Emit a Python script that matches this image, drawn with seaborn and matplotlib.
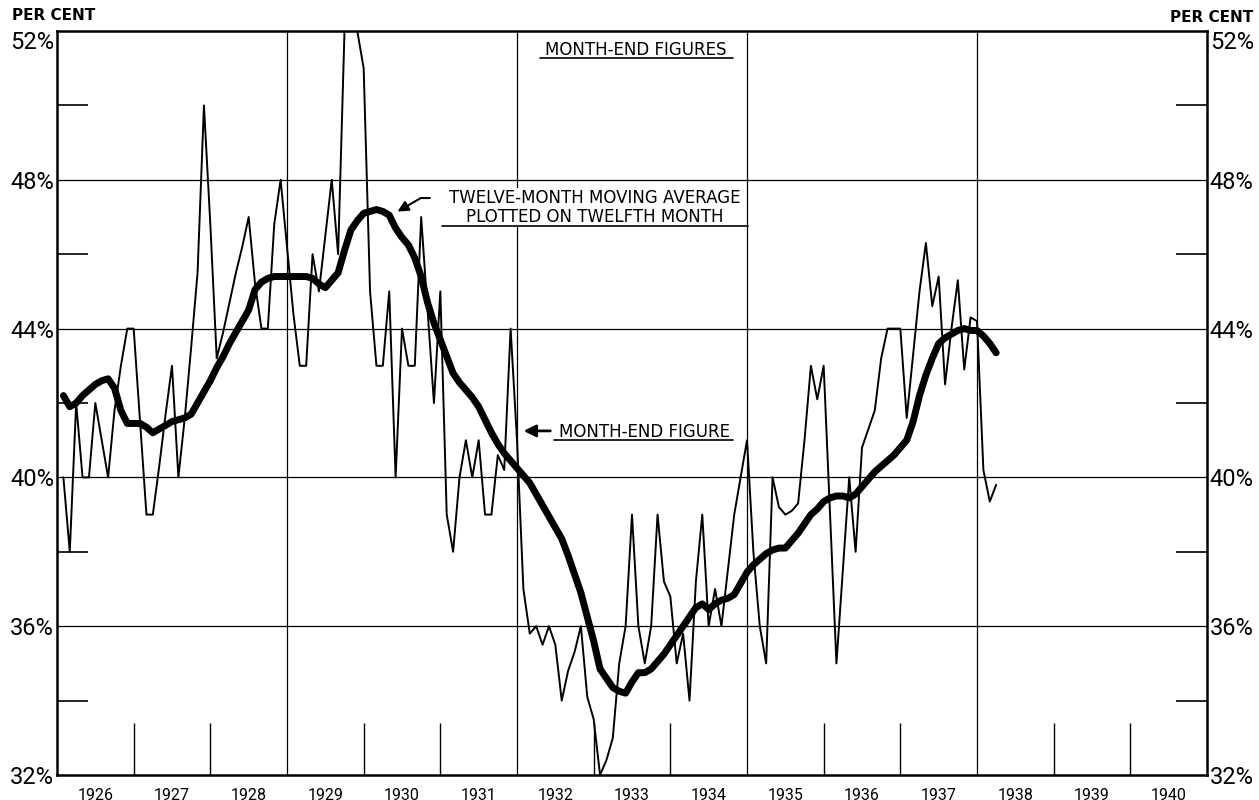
import numpy as np
import pandas as pd
import seaborn as sns
import matplotlib.pyplot as plt

# Configuration
CONFIG = {
    'out': 'out.png',
    'size': (12.59, 8.0),
    'dpi': 100,
    'font': ['Roboto', 'DejaVu Sans'],
    'note_font': ['DejaVu Sans'],
}

# Month-end figures, Jan 1926 .. Mar 1938 (per cent)
month_end = [
    40, 38, 42, 40, 40, 42, 41, 40, 41.8, 43, 44, 44,                  # 1926
    41.5, 39, 39, 40.3, 41.7, 43, 40, 41.6, 43.5, 45.5, 50, 46.8,      # 1927
    43.2, 43.9, 44.7, 45.5, 46.2, 47, 45.2, 44, 44, 46.8, 48, 46.2,    # 1928
    44.4, 43, 43, 46, 45, 46.5, 48, 46, 52, 52, 52, 51,                # 1929
    45, 43, 43, 45, 40, 44, 43, 43, 47, 44.5, 42, 45,                  # 1930
    39, 38, 40, 41, 40, 41, 39, 39, 40.6, 40.2, 44, 41,                # 1931
    37, 35.8, 36, 35.5, 36, 35.5, 34, 34.8, 35.3, 36, 34.1, 33.5,      # 1932
    32, 32.4, 33, 35, 36, 39, 36, 35, 36, 39, 37.2, 36.8,              # 1933
    35, 35.8, 34, 37.2, 39, 36, 37, 36, 37.5, 39, 40, 41,              # 1934
    38, 36, 35, 40, 39.2, 39, 39.1, 39.3, 41, 43, 42.1, 43,            # 1935
    39, 35, 37.5, 40, 38, 40.8, 41.3, 41.8, 43.2, 44, 44, 44,          # 1936
    41.6, 43.3, 45, 46.3, 44.6, 45.4, 42.5, 44, 45.3, 42.9, 44.3, 44.2,  # 1937
    40.2, 39.35, 39.8,                                                 # 1938
]

# Twelve-month moving average, plotted on twelfth month
moving_avg = [
    42.2, 41.9, 42.0, 42.2, 42.35, 42.5, 42.6, 42.65, 42.4, 41.8, 41.45, 41.45,
    41.45, 41.35, 41.2, 41.3, 41.4, 41.5, 41.55, 41.6, 41.7, 42.0, 42.3, 42.6,
    42.95, 43.25, 43.6, 43.9, 44.2, 44.5, 45.05, 45.25, 45.35, 45.4, 45.4, 45.4,
    45.4, 45.4, 45.4, 45.35, 45.2, 45.1, 45.3, 45.5, 46.1, 46.65, 46.9, 47.1,
    47.15, 47.2, 47.15, 47.05, 46.7, 46.45, 46.25, 45.9, 45.4, 44.7, 44.15, 43.7,
    43.25, 42.8, 42.55, 42.35, 42.15, 41.9, 41.55, 41.2, 40.9, 40.65, 40.45, 40.25,
    40.05, 39.85, 39.55, 39.25, 38.95, 38.65, 38.35, 37.9, 37.4, 36.9, 36.25, 35.6,
    34.85, 34.6, 34.35, 34.25, 34.2, 34.5, 34.75, 34.75, 34.85, 35.05, 35.25, 35.5,
    35.75, 36.0, 36.25, 36.5, 36.6, 36.45, 36.6, 36.7, 36.75, 36.85, 37.15, 37.45,
    37.65, 37.8, 37.95, 38.05, 38.1, 38.1, 38.3, 38.5, 38.75, 39.0, 39.15, 39.35,
    39.45, 39.5, 39.5, 39.45, 39.55, 39.75, 39.95, 40.15, 40.3, 40.45, 40.6, 40.8,
    41.0, 41.5, 42.2, 42.75, 43.2, 43.6, 43.75, 43.85, 43.95, 44.0, 43.95, 43.95,
    43.8, 43.6, 43.35,
]

years = list(range(1926, 1941))
grid_years = [1929, 1932, 1935, 1938]
pct_major = [32, 36, 40, 44, 48, 52]
pct_minor = [34, 38, 42, 46, 50]


def main():
    # 1. Build the frame (month-end dates as decimal years)
    months = pd.period_range('1926-01', periods=len(month_end), freq='M')
    df = pd.DataFrame({
        'year': months.year + months.month / 12.0,
        'month_end': month_end,
        'moving_avg': moving_avg,
    })

    sns.set_theme(style='white')
    plt.rcParams['font.family'] = CONFIG['font']

    fig = plt.figure(figsize=CONFIG['size'], dpi=CONFIG['dpi'])
    ax = fig.add_axes([57 / 1259, 25 / 800, 1150 / 1259, 744 / 800])

    # 2. Lines
    sns.lineplot(data=df, x='year', y='month_end', color='black', lw=1.4, ax=ax)
    sns.lineplot(data=df, x='year', y='moving_avg', color='black', lw=5,
                 solid_capstyle='round', ax=ax)

    ax.set_xlim(1926, 1941)
    ax.set_ylim(32, 52)
    ax.set_xlabel('')
    ax.set_ylabel('')

    # 3. Grid, ticks, frame
    for y in pct_major[1:-1]:
        ax.axhline(y, color='black', lw=0.9, zorder=1)
    for x in grid_years:
        ax.axvline(x, color='black', lw=0.9, zorder=1)
    for s in ax.spines.values():
        s.set_color('black')
        s.set_linewidth(1.8)

    ax.set_xticks([y for y in years[1:] if y not in grid_years])
    ax.set_xticks([y + 0.5 for y in years], minor=True)
    ax.set_xticklabels([])
    ax.set_xticklabels([str(y) for y in years], minor=True)
    ax.tick_params(axis='x', which='major', direction='in', length=37.5, width=1,
                   color='black', bottom=True)
    ax.tick_params(axis='x', which='minor', length=0, pad=9, labelsize=11.5,
                   labelcolor='black')

    ax.set_yticks(pct_major)
    ax.set_yticklabels([f'{p}%' for p in pct_major])
    ax.set_yticks(pct_minor, minor=True)
    ax.tick_params(axis='y', which='major', length=0, pad=2, labelsize=17,
                   labelcolor='black', left=True, right=True,
                   labelleft=True, labelright=True)
    ax.tick_params(axis='y', which='minor', direction='in', length=22, width=1.2,
                   color='black', left=True, right=True)
    for t in ax.yaxis.get_major_ticks():
        if t.get_loc() == 52:
            t.label1.set_verticalalignment('top')
            t.label2.set_verticalalignment('top')

    # 4. Annotations
    note = dict(ha='center', va='center', fontsize=12, color='black',
                family=CONFIG['note_font'])
    box = dict(facecolor='white', edgecolor='none', pad=1)

    ax.text(1933.55, 51.49, 'MONTH-END FIGURES', **note)
    ax.plot([1932.30, 1934.82], [51.27, 51.27], color='black', lw=1.2, zorder=5)

    ax.text(1933.02, 47.51, 'TWELVE-MONTH MOVING AVERAGE', bbox=box, **note)
    ax.text(1933.02, 47.0, 'PLOTTED ON TWELFTH MONTH', bbox=box, **note)
    ax.plot([1931.02, 1935.01], [46.76, 46.76], color='black', lw=1.2, zorder=5)
    ax.annotate('', xy=(1930.41, 47.11), xytext=(1930.90, 47.51),
                arrowprops=dict(arrowstyle='-|>', color='black', lw=1.5,
                                mutation_scale=16,
                                connectionstyle='angle,angleA=0,angleB=30,rad=0'))

    ax.text(1933.66, 41.22, 'MONTH-END FIGURE', **note)
    ax.plot([1932.48, 1934.82], [41.0, 41.0], color='black', lw=1.2, zorder=5)
    ax.annotate('', xy=(1932.05, 41.25), xytext=(1932.47, 41.25),
                arrowprops=dict(arrowstyle='-|>', color='black', lw=2,
                                mutation_scale=18))

    fig.text(12 / 1259, 1 - 16 / 800, 'PER CENT', ha='left', va='center',
             fontsize=11, fontweight='bold', color='black',
             family=CONFIG['note_font'])
    fig.text(1253 / 1259, 1 - 18 / 800, 'PER CENT', ha='right', va='center',
             fontsize=11, fontweight='bold', color='black',
             family=CONFIG['note_font'])

    fig.savefig(CONFIG['out'], dpi=CONFIG['dpi'], facecolor='white')


if __name__ == "__main__":
    main()
